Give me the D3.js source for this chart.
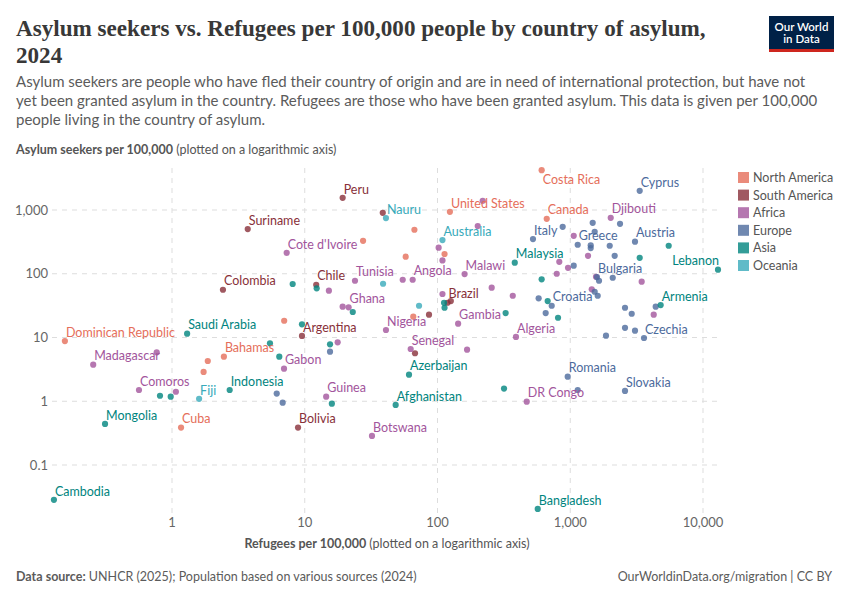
<!DOCTYPE html>
<html>
<head>
<meta charset="utf-8">
<script src="https://cdn.jsdelivr.net/npm/d3@7"></script>
<style>
  body { margin: 0; background: #fff; }
  svg { font-family: Lato, "Noto Sans", sans-serif; }
</style>
</head>
<body>
<script>
// [country, refugees per 100k, asylum seekers per 100k] - "" means unlabeled point
const northAmerica = [
  ["Costa Rica", 609, 4220], ["United States", 124, 937], ["Canada", 665, 728],
  ["", 67, 490], ["", 27.5, 329], ["", 113, 204], ["", 57.6, 185],
  ["", 7.0, 18.3], ["", 65.7, 21.2], ["Dominican Republic", 0.156, 8.8],
  ["Bahamas", 2.46, 5.0], ["", 1.86, 4.28], ["", 1.73, 2.88], ["Cuba", 1.17, 0.386]
];
const southAmerica = [
  ["Peru", 19.3, 1553], ["", 38.7, 904], ["Suriname", 3.72, 502], ["Colombia", 2.42, 56.1],
  ["Chile", 12.2, 67.2], ["Brazil", 119, 35.1], ["", 126, 37.3], ["", 86.3, 22.8],
  ["Argentina", 9.53, 10.6], ["", 67.7, 5.66], ["Bolivia", 8.9, 0.386]
];
const africa = [
  ["Cote d'Ivoire", 7.31, 213], ["Djibouti", 2018, 755], ["", 219, 1393], ["", 201, 559],
  ["", 1062, 394], ["", 102, 256], ["", 109, 162], ["", 827, 154], ["", 962, 124],
  ["", 791, 100], ["", 1361, 191], ["Malawi", 160, 98.9], ["Angola", 65, 80.5],
  ["", 54.7, 80.5], ["Tunisia", 23.9, 77.7], ["", 15.2, 54.2], ["", 256, 60.4],
  ["", 109, 48.1], ["", 369, 45.2], ["", 19.3, 30.4], ["Ghana", 21.4, 29.7],
  ["Gambia", 143, 16.5], ["Nigeria", 40.9, 13.1], ["Algeria", 390, 10.2], ["", 17.7, 8.41],
  ["Senegal", 62.8, 6.6], ["", 167, 6.44], ["Madagascar", 0.255, 3.75], ["", 0.767, 5.86],
  ["Gabon", 6.98, 3.24], ["Comoros", 0.564, 1.5], ["", 1.07, 1.41], ["Guinea", 14.5, 1.18],
  ["DR Congo", 470, 0.986], ["Botswana", 32.1, 0.286], ["", 3452, 75], ["", 1563, 89.8],
  ["", 1452, 56.9], ["", 4254, 22.8]
];
const europe = [
  ["Cyprus", 3336, 2000], ["Italy", 524, 350], ["", 877, 545], ["", 1476, 630],
  ["", 2371, 608], ["", 1528, 455], ["Greece", 1138, 285], ["", 1426, 279], ["", 1426, 253],
  ["", 1983, 275], ["Austria", 3074, 318], ["", 2161, 191], ["", 1062, 134],
  ["Bulgaria", 1590, 88.8], ["", 1647, 77.7], ["", 2089, 86.5], ["", 1528, 52.2],
  ["", 1610, 45.2], ["", 578, 41.2], ["Croatia", 725, 31.5], ["", 653, 24.2],
  ["", 2585, 29.3], ["", 2904, 23.6], ["", 4403, 30.4], ["", 2585, 14.2], ["", 3074, 12.8],
  ["Czechia", 3594, 9.82], ["", 1859, 10.7], ["", 15.5, 5.99], ["Romania", 957, 2.43],
  ["Slovakia", 2585, 1.45], ["", 6.15, 1.32], ["", 6.82, 0.95], ["", 1138, 1.5]
];
const asia = [
  ["Malaysia", 382, 149], ["", 5516, 275], ["", 3336, 178], ["Lebanon", 12970, 116],
  ["", 609, 81.7], ["", 676, 37.3], ["", 809, 20.4], ["", 326, 24.2], ["Armenia", 4800, 32.3],
  ["", 112, 35.1], ["", 113, 29.3], ["", 8.11, 69], ["", 12.3, 59], ["", 23, 25.1],
  ["Saudi Arabia", 1.3, 11.5], ["", 9.53, 16.1], ["", 5.47, 8.11], ["", 6.43, 5.0],
  ["", 15.5, 7.82], ["Azerbaijan", 61, 2.61], ["", 317, 1.58], ["Indonesia", 2.72, 1.5],
  ["", 0.812, 1.22], ["", 0.978, 1.18], ["", 16, 0.917], ["Afghanistan", 48.4, 0.875],
  ["Mongolia", 0.313, 0.441], ["Cambodia", 0.129, 0.0284], ["Bangladesh", 569, 0.0205]
];
const oceania = [
  ["Nauru", 40.9, 746], ["Australia", 109, 338], ["", 38.9, 69.7], ["", 72.6, 31.5],
  ["Fiji", 1.6, 1.09]
];

const regions = ["North America", "South America", "Africa", "Europe", "Asia", "Oceania"];
const xTicks = [1, 10, 100, 1000, 10000];
const yTicks = [0.1, 1, 10, 100, 1000];

const seriesByRegion = [northAmerica, southAmerica, africa, europe, asia, oceania];
const points = regions.flatMap((r, i) =>
  seriesByRegion[i].map(d => ({ name: d[0], refugees: d[1], asylum: d[2], region: r })));

const w = 850;
const h = 600;

const color = d3.scaleOrdinal()
  .domain(regions)
  .range(["#E56E5A", "#883039", "#A2559C", "#4C6A9C", "#00847E", "#38AABA"]);

const x = d3.scaleLog().domain([1, 10000]).range([172, 703]);
const y = d3.scaleLog().domain([0.1, 1000]).range([465, 210]);
const plotLeft = 52, plotRight = 718, plotTop = 168, plotBottom = 514;

const svg = d3.select("body")
  .append("svg")
  .attr("width", w)
  .attr("height", h);

//title
const title = svg.append("g")
  .attr("font-family", "'Liberation Serif', 'DejaVu Serif', serif")
  .attr("font-weight", "bold")
  .attr("fill", "#383838");
const t1 = title.append("text")
  .attr("x", 16).attr("y", 36)
  .attr("font-size", 24)
  .text("Asylum seekers vs. Refugees per 100,000 people by country of asylum,");
// scale the fallback serif so the line spans about the same width as the original
const t1w = t1.node().getComputedTextLength();
const titleSize = 24 * 690 / t1w;
t1.attr("font-size", titleSize);
title.append("text")
  .attr("x", 16).attr("y", 63)
  .attr("font-size", titleSize)
  .text("2024");

//subtitle
const subtitle = [
  "Asylum seekers are people who have fled their country of origin and are in need of international protection, but have not",
  "yet been granted asylum in the country. Refugees are those who have been granted asylum. This data is given per 100,000",
  "people living in the country of asylum."
];
svg.append("g")
  .selectAll("text")
  .data(subtitle)
  .enter().append("text")
  .attr("x", 16)
  .attr("y", (d, i) => 87 + i * 19)
  .attr("font-size", 15)
  .attr("fill", "#5b5b5b")
  .text(d => d);

//logo
const logo = svg.append("g");
logo.append("rect").attr("x", 769).attr("y", 16).attr("width", 65).attr("height", 36).attr("fill", "#002147");
logo.append("rect").attr("x", 769).attr("y", 49).attr("width", 65).attr("height", 3).attr("fill", "#CE261E");
logo.selectAll("text")
  .data(["Our World", "in Data"])
  .enter().append("text")
  .attr("x", 801.5)
  .attr("y", (d, i) => 31 + i * 12)
  .attr("text-anchor", "middle")
  .attr("font-size", 11.5)
  .attr("font-weight", 600)
  .attr("fill", "#fff")
  .text(d => d);

//axis titles
const yTitle = svg.append("text")
  .attr("x", 16).attr("y", 154)
  .attr("font-size", 12.5)
  .attr("fill", "#555");
yTitle.append("tspan").attr("font-weight", "bold").text("Asylum seekers per 100,000");
yTitle.append("tspan").text(" (plotted on a logarithmic axis)");

const xTitle = svg.append("text")
  .attr("x", 387).attr("y", 548)
  .attr("text-anchor", "middle")
  .attr("font-size", 12.5)
  .attr("fill", "#555");
xTitle.append("tspan").attr("font-weight", "bold").text("Refugees per 100,000");
xTitle.append("tspan").text(" (plotted on a logarithmic axis)");

//grid
const grid = svg.append("g")
  .attr("stroke", "#dddddd")
  .attr("stroke-dasharray", "5,5");
grid.selectAll(".hgrid")
  .data(yTicks)
  .enter().append("line")
  .attr("x1", plotLeft).attr("x2", plotRight)
  .attr("y1", d => y(d)).attr("y2", d => y(d));
grid.selectAll(".vgrid")
  .data(xTicks)
  .enter().append("line")
  .attr("y1", plotTop).attr("y2", plotBottom)
  .attr("x1", d => x(d)).attr("x2", d => x(d));

const fmt = d3.format(",");

svg.append("g")
  .selectAll("text")
  .data(yTicks)
  .enter().append("text")
  .attr("x", 48)
  .attr("y", d => y(d))
  .attr("dy", "0.35em")
  .attr("text-anchor", "end")
  .attr("font-size", 13)
  .attr("fill", "#666")
  .text(d => fmt(d));

svg.append("g")
  .selectAll("text")
  .data(xTicks)
  .enter().append("text")
  .attr("x", d => x(d))
  .attr("y", 527)
  .attr("text-anchor", "middle")
  .attr("font-size", 13)
  .attr("fill", "#666")
  .text(d => fmt(d));

//points
svg.append("g")
  .selectAll("circle")
  .data(points)
  .enter().append("circle")
  .attr("cx", d => x(d.refugees))
  .attr("cy", d => y(d.asylum))
  .attr("r", 3.1)
  .attr("fill", d => color(d.region))
  .attr("fill-opacity", 0.8);

//labels
const labelSide = { "Costa Rica": "below", "Lebanon": "left" };
svg.append("g")
  .selectAll("text")
  .data(points.filter(d => d.name))
  .enter().append("text")
  .attr("x", d => x(d.refugees) + 1)
  .attr("y", d => y(d.asylum) + (labelSide[d.name] === "below" ? 14 : -4.3))
  .attr("text-anchor", d => labelSide[d.name] === "left" ? "end" : "start")
  .attr("font-size", 12.5)
  .attr("fill", d => color(d.region))
  .text(d => d.name);

//legend
const legend = svg.append("g")
  .selectAll("g")
  .data(regions)
  .enter().append("g")
  .attr("transform", (d, i) => `translate(738, ${172 + i * 17.6})`);
legend.append("rect")
  .attr("width", 11).attr("height", 11)
  .attr("fill", d => color(d))
  .attr("fill-opacity", 0.8);
legend.append("text")
  .attr("x", 15).attr("y", 10)
  .attr("font-size", 12.5)
  .attr("fill", "#555")
  .text(d => d);

//footer
const source = svg.append("text")
  .attr("x", 16).attr("y", 581)
  .attr("font-size", 12.5)
  .attr("fill", "#5b5b5b");
source.append("tspan").attr("font-weight", "bold").text("Data source:");
source.append("tspan").text(" UNHCR (2025); Population based on various sources (2024)");

svg.append("text")
  .attr("x", 832).attr("y", 581)
  .attr("text-anchor", "end")
  .attr("font-size", 12.5)
  .attr("fill", "#5b5b5b")
  .text("OurWorldinData.org/migration | CC BY");
</script>
</body>
</html>
